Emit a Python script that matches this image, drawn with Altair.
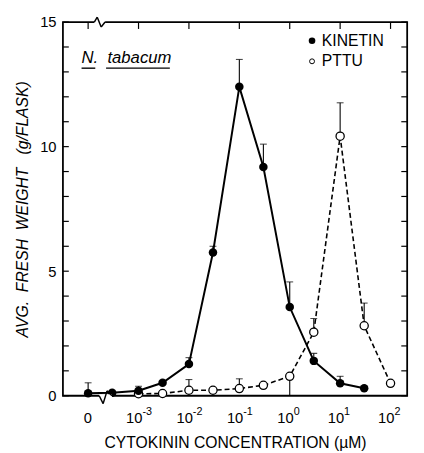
import altair as alt
import pandas as pd

# ---- data ----
ZERO_POS = 1e-4  # where the "0" concentration is plotted on the log axis

kin_conc = [0, 3e-4, 1e-3, 3e-3, 1e-2, 3e-2, 0.1, 0.3, 1, 3, 10, 30]
kin_wt = [0.1, 0.12, 0.2, 0.52, 1.27, 5.75, 12.4, 9.18, 3.56, 1.4, 0.5, 0.3]
kin_err_hi = [0.52, None, 0.38, None, 1.53, 6.0, 13.5, 10.1, 4.57, 1.7, 0.78, None]

pttu_conc = [1e-3, 3e-3, 1e-2, 3e-2, 0.1, 0.3, 1, 3, 10, 30, 100]
pttu_wt = [0.08, 0.09, 0.22, 0.22, 0.29, 0.42, 0.78, 2.55, 10.42, 2.81, 0.5]
pttu_err_hi = [None, None, 0.65, None, 0.68, None, None, 3.1, 11.76, 3.72, None]
pttu_err_lo = [None, None, None, None, None, None, 0.0, None, None, None, None]

x_tick_vals = [1e-4, 1e-3, 1e-2, 1e-1, 1, 10, 100]
x_tick_base = ["0", "10", "10", "10", "10", "10", "10"]
x_tick_exp = ["", "-3", "-2", "-1", "0", "1", "2"]
y_minor = list(range(0, 16))

W, H = 351, 381
FONT = "Liberation Sans"
NB = "\u00a0"


def rows(series, conc, wt, hi, lo=None):
    out = []
    for i, (c, w) in enumerate(zip(conc, wt)):
        out.append({
            "series": series,
            "x": ZERO_POS if c == 0 else c,
            "y": w,
            "hi": hi[i] if hi[i] is not None else w,
            "lo": (lo[i] if (lo and lo[i] is not None) else w),
            "has_hi": hi[i] is not None,
        })
    return out


kin = pd.DataFrame(rows("KINETIN", kin_conc, kin_wt, kin_err_hi))
pttu = pd.DataFrame(rows("PTTU", pttu_conc, pttu_wt, pttu_err_hi, pttu_err_lo))
allpts = pd.concat([kin, pttu])
errs = allpts[allpts["has_hi"] | (allpts["lo"] < allpts["y"])]
caps = allpts[allpts["has_hi"]]

xs = alt.Scale(type="log", domain=[10 ** -4.5, 10 ** 2.33], nice=False)
ys = alt.Scale(domain=[0, 15], nice=False)

y_title = f"AVG.{NB}{NB}FRESH{NB}{NB}WEIGHT{NB}{NB}{NB}(g/FLASK)"

X = alt.X("x:Q", scale=xs,
          axis=alt.Axis(values=x_tick_vals, labels=False, ticks=False, domain=False, grid=False,
                        title="CYTOKININ CONCENTRATION (µM)", titleFont=FONT, titleFontSize=16,
                        titleFontWeight="normal", titlePadding=40, titleColor="black"))
Y = alt.Y("y:Q", scale=ys,
          axis=alt.Axis(values=[0, 5, 10, 15], ticks=False, domain=False, grid=False,
                        labelFont=FONT, labelFontSize=15, labelPadding=7, labelColor="black",
                        title=y_title, titleFont=FONT, titleFontSize=16,
                        titleFontWeight="normal", titleFontStyle="italic", titlePadding=9,
                        titleColor="black"))

err_rules = alt.Chart(errs).mark_rule(color="black", strokeWidth=1.1).encode(
    x=alt.X("x:Q", scale=xs), y=alt.Y("lo:Q", scale=ys), y2="hi:Q")
err_caps = alt.Chart(caps).mark_tick(color="black", orient="horizontal", size=7, thickness=1.1).encode(
    x=alt.X("x:Q", scale=xs), y=alt.Y("hi:Q", scale=ys))

kin_line = alt.Chart(kin).mark_line(color="black", strokeWidth=2).encode(x=X, y=Y)
pttu_line = alt.Chart(pttu).mark_line(color="black", strokeWidth=1.6, strokeDash=[5, 3]).encode(
    x=alt.X("x:Q", scale=xs), y=alt.Y("y:Q", scale=ys))

kin_pts = alt.Chart(kin).mark_point(shape="circle", filled=True, color="black", size=75, opacity=1).encode(
    x=alt.X("x:Q", scale=xs), y=alt.Y("y:Q", scale=ys))
pttu_pts = alt.Chart(pttu).mark_point(shape="circle", filled=True, fill="white", stroke="black",
                                      strokeWidth=1.3, size=70, opacity=1).encode(
    x=alt.X("x:Q", scale=xs), y=alt.Y("y:Q", scale=ys))

# inward ticks
ydf = pd.DataFrame({"t": y_minor})
left_ticks = alt.Chart(ydf).mark_rule(color="black", strokeWidth=1.2).encode(
    y=alt.Y("t:Q", scale=ys), x=alt.value(0), x2=alt.value(6))
right_ticks = alt.Chart(ydf).mark_rule(color="black", strokeWidth=1.2).encode(
    y=alt.Y("t:Q", scale=ys), x=alt.value(W - 6), x2=alt.value(W))
xdf = pd.DataFrame({"v": x_tick_vals, "b": x_tick_base, "e": x_tick_exp})
top_ticks = alt.Chart(xdf).mark_rule(color="black", strokeWidth=1.2).encode(
    x=alt.X("v:Q", scale=xs), y=alt.value(0), y2=alt.value(7))

# x tick labels: base and superscript exponent
lab_base = alt.Chart(xdf).mark_text(font=FONT, fontSize=15, align="right", baseline="alphabetic",
                                    dx=4, color="black").encode(
    x=alt.X("v:Q", scale=xs), y=alt.value(H + 28), text="b:N")
lab_exp = alt.Chart(xdf).mark_text(font=FONT, fontSize=11, align="left", baseline="alphabetic",
                                   dx=4, color="black").encode(
    x=alt.X("v:Q", scale=xs), y=alt.value(H + 20), text="e:N")

# axis-break marks (decoration)
brk = pd.DataFrame({"k": [0]})
gap_bot = alt.Chart(brk).mark_rect(color="white").encode(
    x=alt.value(37), x2=alt.value(50), y=alt.value(H - 1.5), y2=alt.value(H + 1.5))
gap_top = alt.Chart(brk).mark_rect(color="white").encode(
    x=alt.value(32), x2=alt.value(43), y=alt.value(-1.5), y2=alt.value(1.5))
zz = []
for (ax, ay, bx, by) in [(37, H, 41, H + 8), (41, H + 8, 45, H - 5), (45, H - 5, 50, H),
                         (32, 0, 35, -5), (35, -5, 39, 5), (39, 5, 43, 0)]:
    zz.append(alt.Chart(brk).mark_rule(color="black", strokeWidth=1.5).encode(
        x=alt.value(ax), y=alt.value(ay), x2=alt.value(bx), y2=alt.value(by)))

# legend
leg = pd.DataFrame({"lab": ["KINETIN", "PTTU"]})
leg_k = alt.Chart(leg.iloc[[0]]).mark_point(shape="circle", filled=True, color="black", size=45, opacity=1).encode(
    x=alt.value(254), y=alt.value(19))
leg_p = alt.Chart(leg.iloc[[1]]).mark_point(shape="circle", filled=True, fill="white", stroke="black",
                                            strokeWidth=1, size=25, opacity=1).encode(
    x=alt.value(254), y=alt.value(40))
leg_t1 = alt.Chart(leg.iloc[[0]]).mark_text(font=FONT, fontSize=16, align="left", baseline="middle",
                                            color="black").encode(
    x=alt.value(264), y=alt.value(19), text="lab:N")
leg_t2 = alt.Chart(leg.iloc[[1]]).mark_text(font=FONT, fontSize=16, align="left", baseline="middle",
                                            color="black").encode(
    x=alt.value(264), y=alt.value(40), text="lab:N")

# species label
sp = pd.DataFrame({"t": [f"N.{NB}{NB}tabacum"]})
sp_text = alt.Chart(sp).mark_text(font=FONT, fontSize=17, fontStyle="italic", align="left",
                                  baseline="alphabetic", color="black").encode(
    x=alt.value(19), y=alt.value(42), text="t:N")
ul1 = alt.Chart(sp).mark_rule(color="black", strokeWidth=1.4).encode(
    x=alt.value(19), x2=alt.value(33), y=alt.value(47))
ul2 = alt.Chart(sp).mark_rule(color="black", strokeWidth=1.4).encode(
    x=alt.value(44), x2=alt.value(109), y=alt.value(47))

chart = alt.layer(
    kin_line, pttu_line, err_rules, err_caps, pttu_pts, kin_pts,
    left_ticks, right_ticks, top_ticks, lab_base, lab_exp,
    gap_bot, gap_top, *zz,
    leg_k, leg_p, leg_t1, leg_t2, sp_text, ul1, ul2,
).properties(
    width=W, height=H,
    autosize=alt.AutoSizeParams(type="none"),
    padding={"left": 56, "top": 10, "right": 9, "bottom": 53},
    background="white",
).configure_view(stroke="black", strokeWidth=1.8, clip=False)

chart.save("out.html", embed_options={"renderer": "svg", "actions": False})
